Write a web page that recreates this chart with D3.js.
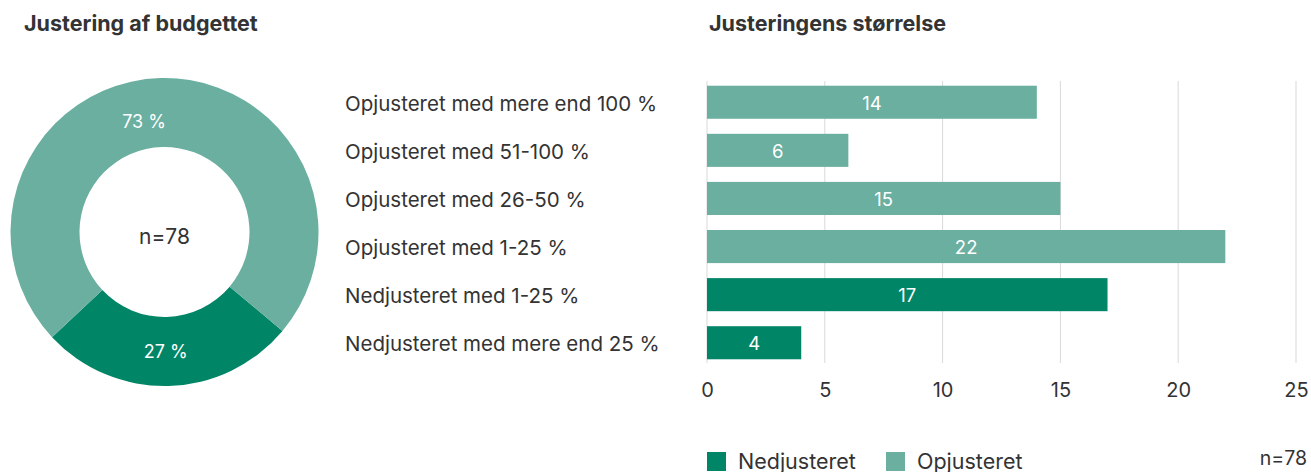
<!DOCTYPE html>
<html><head><meta charset="utf-8">
<script src="https://cdn.jsdelivr.net/npm/d3@7"></script>
<style>
html,body{margin:0;padding:0;background:#fff;}
svg{display:block;font-family:Inter,"Noto Sans",sans-serif;}
</style></head>
<body><svg id="c" width="1311" height="472"></svg>
<script>
// ---- data ----
const donutLabels = ["Nedjusteret", "Opjusteret"];
const donutValues = [21, 57];
const donutPctLabels = ["27 %", "73 %"];
const donutCenterText = "n=78";

const categories = [
  "Opjusteret med mere end 100 %",
  "Opjusteret med 51-100 %",
  "Opjusteret med 26-50 %",
  "Opjusteret med 1-25 %",
  "Nedjusteret med 1-25 %",
  "Nedjusteret med mere end 25 %"
];
const barValues = [14, 6, 15, 22, 17, 4];
const barGroups = ["Opjusteret", "Opjusteret", "Opjusteret", "Opjusteret", "Nedjusteret", "Nedjusteret"];
const xTicks = [0, 5, 10, 15, 20, 25];
const legendItems = ["Nedjusteret", "Opjusteret"];
const barNote = "n=78";
const titles = ["Justering af budgettet", "Justeringens størrelse"];

// ---- styles ----
const colors = {Nedjusteret: "#008566", Opjusteret: "#6bafa1"};
const textColor = "#333333";
const svg = d3.select("#c");

// titles
svg.append("text").attr("x", 24).attr("y", 31).attr("font-size", 21.5).attr("font-weight", 700)
  .attr("fill", textColor).text(titles[0]);
svg.append("text").attr("x", 709).attr("y", 31).attr("font-size", 21.5).attr("font-weight", 700)
  .attr("fill", textColor).text(titles[1]);

// ---- donut ----
const cx = 164.5, cy = 232, rO = 154, rI = 85;
const startDeg = 130;
const pie = d3.pie().sort(null).value(d => d.v)
  .startAngle(startDeg * Math.PI / 180).endAngle((startDeg + 360) * Math.PI / 180);
const arcs = pie(donutLabels.map((k, i) => ({k, v: donutValues[i], lab: donutPctLabels[i]})));
const arc = d3.arc().innerRadius(rI).outerRadius(rO);
const g = svg.append("g").attr("transform", `translate(${cx},${cy})`);
g.selectAll("path").data(arcs).join("path").attr("d", arc).attr("fill", d => colors[d.data.k]);
const labelShift = [1 * Math.PI / 180, -9 * Math.PI / 180];
const labelR = [120, 112];
g.selectAll("text.pct").data(arcs).join("text").attr("class", "pct")
  .attr("transform", (d, i) => {
    const a = (d.startAngle + d.endAngle) / 2 + labelShift[i];
    const r = labelR[i];
    return `translate(${Math.sin(a) * r},${-Math.cos(a) * r})`;
  })
  .attr("text-anchor", "middle").attr("dy", "0.35em").attr("font-size", 18).attr("fill", "#fff")
  .text(d => d.data.lab);
g.append("text").attr("text-anchor", "middle").attr("dy", "0.35em").attr("y", 5)
  .attr("font-size", 21).attr("fill", textColor).text(donutCenterText);

// ---- bars ----
const x = d3.scaleLinear().domain([0, 25]).range([707, 1296]);
const y = d3.scaleBand().domain(categories).range([78.5, 366.5]).paddingInner(0.3125).paddingOuter(0.15);

svg.append("g").selectAll("line").data(xTicks).join("line")
  .attr("x1", d => x(d)).attr("x2", d => x(d)).attr("y1", 81).attr("y2", 363)
  .attr("stroke", "#d9d9d9").attr("stroke-width", 1);

svg.append("g").selectAll("rect").data(categories).join("rect")
  .attr("x", x(0)).attr("y", d => y(d)).attr("height", y.bandwidth())
  .attr("width", (d, i) => x(barValues[i]) - x(0))
  .attr("fill", (d, i) => colors[barGroups[i]]);

svg.append("g").selectAll("text").data(categories).join("text")
  .attr("x", (d, i) => (x(0) + x(barValues[i])) / 2).attr("y", d => y(d) + y.bandwidth() / 2 + 1)
  .attr("dy", "0.35em").attr("text-anchor", "middle").attr("font-size", 18.5).attr("fill", "#fff")
  .text((d, i) => barValues[i]);

svg.append("g").selectAll("text").data(categories).join("text")
  .attr("x", 345).attr("y", d => y(d) + y.bandwidth() / 2 + 1.5)
  .attr("dy", "0.35em").attr("font-size", 20.5).attr("fill", textColor).text(d => d);

const xAxis = svg.append("g").attr("transform", "translate(0,383)")
  .call(d3.axisBottom(x).tickValues(xTicks).tickSize(0).tickPadding(0));
xAxis.select(".domain").remove();
xAxis.selectAll("text").attr("font-size", 20).attr("fill", textColor)
  .attr("font-family", "Inter,'Noto Sans',sans-serif").attr("dy", "0.71em");

// legend
const lx = [707, 886];
const lg = svg.append("g").selectAll("g").data(legendItems).join("g")
  .attr("transform", (d, i) => `translate(${lx[i]},452)`);
lg.append("rect").attr("width", 19).attr("height", 19).attr("fill", d => colors[d]);
lg.append("text").attr("x", 31).attr("y", 17).attr("font-size", 21.5).attr("fill", textColor).text(d => d);

svg.append("text").attr("x", 1307).attr("y", 465).attr("text-anchor", "end")
  .attr("font-size", 19.5).attr("fill", textColor).text(barNote);
</script></body></html>
